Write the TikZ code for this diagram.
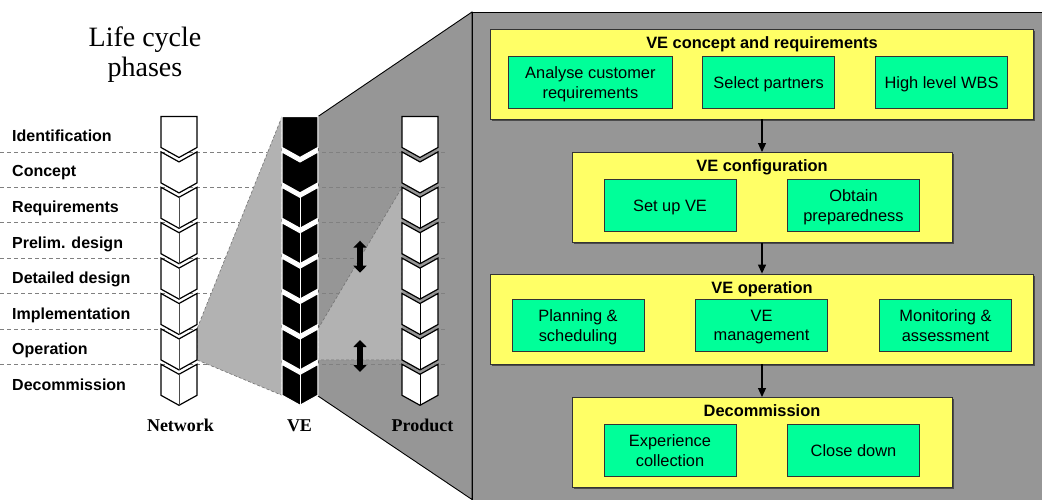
\documentclass[tikz,border=0pt]{standalone}
\usepackage{fontspec}
\setmainfont{Liberation Serif}
\setsansfont{Liberation Sans}
\usetikzlibrary{positioning,arrows.meta,shadows}

\definecolor{panelgray}{RGB}{150,150,150}
\definecolor{projgray}{RGB}{178,178,178}
\definecolor{stageyellow}{RGB}{255,255,102}
\definecolor{taskgreen}{RGB}{0,255,153}

\tikzset{
phase/.style={anchor=base west, inner sep=0pt, font=\sffamily\bfseries\fontsize{16}{18}\selectfont},
colname/.style={anchor=base, inner sep=0pt, font=\rmfamily\bfseries\fontsize{18}{20}\selectfont},
phaseline/.style={draw=black!50, line width=0.8pt, dash pattern=on 4pt off 3pt},
projection/.style={fill=projgray, draw=black!55, line width=0.6pt, dash pattern=on 3pt off 2pt},
netchev/.style={fill=white, draw=black, line width=1.2pt},
vechev/.style={fill=black, draw=white, line width=1.2pt},
prodchev/.style={fill=white, draw=black, line width=1.2pt},
netmid/.style={draw=black!70, line width=0.6pt},
vemid/.style={draw=white, line width=1pt},
prodmid/.style={draw=black, line width=0.8pt},
updown/.style={{Triangle[width=13pt,length=7pt]}-{Triangle[width=13pt,length=7pt]}, line width=5.5pt},
stage/.style={draw=black!80, fill=stageyellow, line width=0.8pt, inner sep=0pt,
  drop shadow={shadow xshift=1.5pt, shadow yshift=-1.5pt, fill=black!70, opacity=1}},
stagetitle/.style={inner sep=0pt, font=\sffamily\bfseries\fontsize{16.4}{19}\selectfont},
task/.style={draw=black!80, fill=taskgreen, line width=0.8pt, align=center, inner sep=0pt, text depth=0pt,
  minimum height=52pt, minimum width=132pt, font=\sffamily\fontsize{16.4}{19.5}\selectfont},
flow/.style={-{Triangle[width=8pt,length=9pt]}, line width=1.2pt},
}

\begin{document}
\begin{tikzpicture}[x=1pt,y=-1pt]
\useasboundingbox (0,0) rectangle (1042,499);
\clip (0,0) rectangle (1042,499);

% corner points of the columns and projections
\coordinate (ve-tl) at (282,116.5);
\coordinate (ve-tr) at (318,116.5);
\coordinate (ve-bl) at (282,395.3);
\coordinate (ve-br) at (318,396);
\coordinate (net-op-t) at (197,328.9);
\coordinate (net-op-b) at (197,359.9);
\coordinate (ve-op-t) at (318,328.9);
\coordinate (ve-op-b) at (318,359.9);
\coordinate (prod-req-t) at (402,187.3);
\coordinate (prod-op-b) at (402,359.9);
\coordinate (pan-tl) at (472,12);
\coordinate (pan-bl) at (472,499.5);

% zoom onto the VE life cycle
\filldraw[fill=panelgray, draw=black, line width=0.9pt] (ve-tr) -- (pan-tl) -- (pan-bl) -- (ve-br) -- cycle;
\draw[fill=panelgray, line width=1pt] (pan-tl) rectangle (1070,530);

% phase separators
\foreach \k in {1,...,7}
  \draw[phaseline] (0,116.5+35.4*\k) -- (447,116.5+35.4*\k);

\path[projection] (ve-tl) -- (net-op-t) -- (net-op-b) -- (ve-bl) -- cycle;
\path[projection] (ve-op-t) -- (prod-req-t) -- (prod-op-b) -- (ve-op-b) -- cycle;

\fill[white] (ve-tl) rectangle (ve-br);

% life cycle columns
\foreach \cx/\sty/\mid in {179/netchev/netmid, 300/vechev/vemid, 420/prodchev/prodmid}{
  \foreach \k in {0,...,7}{
    \pgfmathsetmacro{\ctop}{116.5+35.4*\k}
    \ifnum\k=0
      \path[\sty] (\cx-18,\ctop) -- (\cx+18,\ctop) -- (\cx+18,\ctop+31) -- (\cx,\ctop+41) -- (\cx-18,\ctop+31) -- cycle;
    \else
      \path[\sty] (\cx-18,\ctop) -- (\cx,\ctop+10) -- (\cx+18,\ctop) -- (\cx+18,\ctop+31) -- (\cx,\ctop+41) -- (\cx-18,\ctop+31) -- cycle;
    \fi
    \ifnum\k>1
      \draw[\mid] (\cx,\ctop+10) -- (\cx,\ctop+41);
    \fi
  }
}

\coordinate (ud1-a) at (360,240.7);
\coordinate (ud1-b) at (360,272.7);
\coordinate (ud2-a) at (360,340);
\coordinate (ud2-b) at (360,372);
\draw[updown] (ud1-a) -- (ud1-b);
\draw[updown] (ud2-a) -- (ud2-b);

\node[font=\rmfamily\fontsize{28}{30}\selectfont, align=center, inner sep=0pt] (title) at (145,54.3) {Life cycle\\phases};

\foreach \name [count=\k from 0] in {Identification,Concept,Requirements,Prelim. design,Detailed design,Implementation,Operation,Decommission}
  \node[phase] (ph-\k) at (12,141.2+35.6*\k) {\name};

\node[colname] (col-net) at (180.5,431.7) {Network};
\node[colname] (col-ve) at (299.5,431.7) {VE};
\node[colname] (col-prod) at (422.5,431.7) {Product};

% VE life cycle stages
\node[stage, minimum width=543pt, minimum height=90pt] (s1) at (762,74) {};
\node[stage, minimum width=380pt, minimum height=90pt] (s2) at (762,197.4) {};
\node[stage, minimum width=543pt, minimum height=90pt] (s3) at (762,319) {};
\node[stage, minimum width=380pt, minimum height=90pt] (s4) at (762,442.4) {};

\node[stagetitle, below=7.5pt of s1.north] (s1-t) {VE concept and requirements};
\node[stagetitle, below=7.5pt of s2.north] (s2-t) {VE configuration};
\node[stagetitle, below=7.5pt of s3.north] (s3-t) {VE operation};
\node[stagetitle, below=7.5pt of s4.north] (s4-t) {Decommission};

\node[task, minimum width=164pt] (t11) at (590.4,82.8) {Analyse customer\\requirements};
\node[task] (t12) at (768.6,82.8) {Select partners};
\node[task] (t13) at (941.5,82.8) {High level WBS};

\node[task] (t21) at (670,205.5) {Set up VE};
\node[task] (t22) at (853.5,205.5) {Obtain\\preparedness};

\node[task] (t31) at (578,325.5) {Planning \&\\scheduling};
\node[task] (t32) at (761.5,325.5) {VE\\management};
\node[task] (t33) at (945.5,325.5) {Monitoring \&\\assessment};

\node[task] (t41) at (670,450.5) {Experience\\collection};
\node[task] (t42) at (853.5,450.5) {Close down};

\draw[flow] (s1) -- (s2);
\draw[flow] (s2) -- (s3);
\draw[flow] (s3) -- (s4);
\end{tikzpicture}
\end{document}
